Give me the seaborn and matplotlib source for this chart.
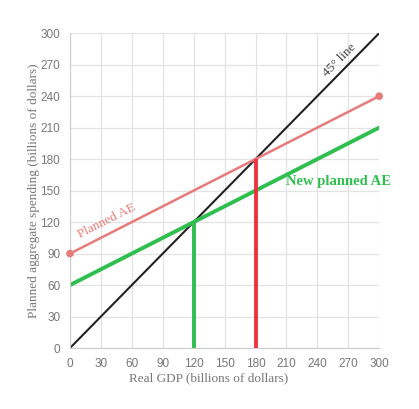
import numpy as np
import pandas as pd
import matplotlib
matplotlib.use("Agg")
import matplotlib.pyplot as plt
import seaborn as sns

# data
gdp = [0, 300]
line45 = [0, 300]
planned_ae = [90, 240]
new_planned_ae = [60, 210]
ticks = [0, 30, 60, 90, 120, 150, 180, 210, 240, 270, 300]
eq_old = 180   # old equilibrium
eq_new = 120   # new equilibrium

red_light = "#e77b7b"
red = "#ee3340"
green = "#2fbf4f"
grid_c = "#e3e3e3"
txt_c = "#777777"

sns.set_style("white")
plt.rcParams['font.family'] = ['Liberation Sans', 'DejaVu Sans']

fig = plt.figure(figsize=(4.19, 4.09), dpi=100)
ax = fig.add_axes([0.167, 0.149, 0.738, 0.770])

df = pd.DataFrame({"gdp": gdp, "l45": line45, "ae": planned_ae, "nae": new_planned_ae})

sns.lineplot(data=df, x="gdp", y="l45", ax=ax, color="#222222", lw=1.5)
sns.lineplot(data=df, x="gdp", y="ae", ax=ax, color=red_light, lw=1.8)
sns.scatterplot(data=df, x="gdp", y="ae", ax=ax, color=red_light, s=30, edgecolor="none", zorder=5, clip_on=False)
sns.lineplot(data=df, x="gdp", y="nae", ax=ax, color=green, lw=2.8)

# equilibrium drop lines
ax.plot([eq_new, eq_new], [0, eq_new], color=green, lw=2.8, solid_capstyle="butt")
ax.plot([eq_old, eq_old], [0, eq_old], color=red, lw=2.8, solid_capstyle="butt")

ax.set_xlim(0, 300)
ax.set_ylim(0, 300)
ax.set_xticks(ticks)
ax.set_yticks(ticks)
ax.grid(True, color=grid_c, lw=0.9)
ax.set_axisbelow(True)
for s in ["top", "right"]:
    ax.spines[s].set_visible(False)
for s in ["left", "bottom"]:
    ax.spines[s].set_color("#cccccc")
ax.tick_params(axis="both", colors=grid_c, length=5, width=0.9, labelsize=8.5,
               labelcolor=txt_c, pad=2)

ax.set_xlabel("Real GDP (billions of dollars)", family="Liberation Serif",
              fontsize=9.5, color=txt_c, labelpad=2, x=0.447)
ax.set_ylabel("Planned aggregate spending (billions of dollars)", family="Liberation Serif",
              fontsize=9.5, color=txt_c, labelpad=0)

ax.text(262, 274, "45° line", family="Liberation Serif", fontsize=9.5, color="#444444",
        rotation=45, ha="center", va="center")
ax.text(36, 121, "Planned AE", family="Liberation Serif", fontsize=9.5, color=red_light,
        rotation=27, ha="center", va="center")
ax.text(261, 159, "New planned AE", family="Liberation Serif", fontsize=10.5,
        fontweight="bold", color=green, ha="center", va="center")

fig.savefig("out.png", dpi=100)
